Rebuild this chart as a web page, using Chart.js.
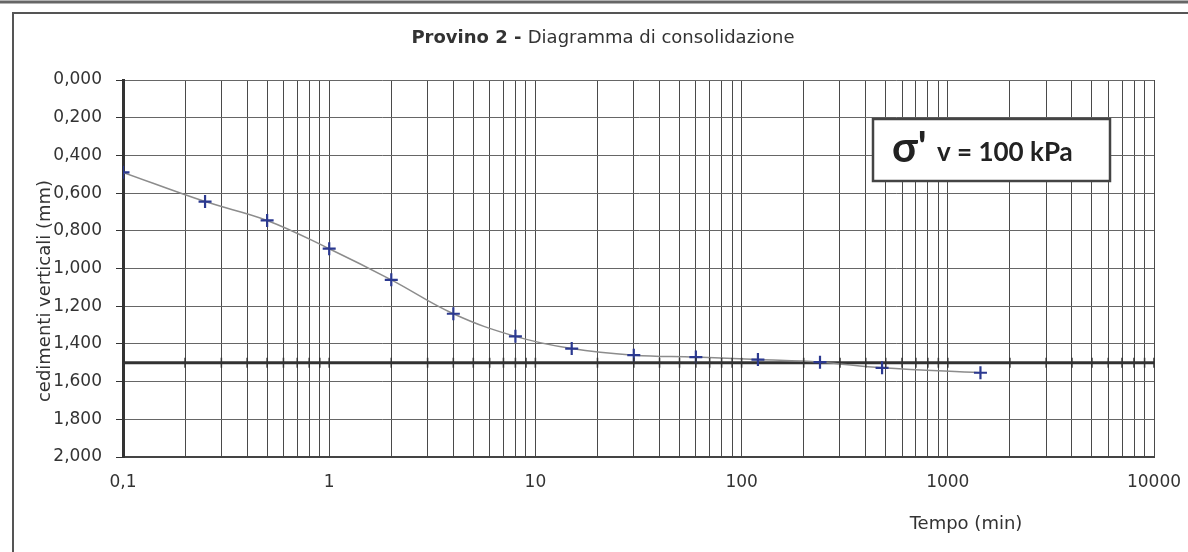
<!DOCTYPE html>
<html>
<head>
<meta charset="utf-8">
<script src="https://cdn.jsdelivr.net/npm/chart.js@4/dist/chart.umd.min.js"></script>
<style>
body { margin: 0; background: #fff; }
#box { width: 1188px; height: 552px; position: relative; }
</style>
</head>
<body>
<div id="box"><canvas id="grafico" width="1188" height="552"></canvas></div>
<script>
// letture della prova: tempo (min) e cedimento verticale (mm)
const tempi = [0.1, 0.25, 0.5, 1, 2, 4, 8, 15, 30, 60, 120, 240, 480, 1440];
const cedimenti = [0.49, 0.645, 0.745, 0.895, 1.06, 1.24, 1.36, 1.425, 1.46, 1.47, 1.483, 1.497, 1.527, 1.553];

// linea orizzontale spessa a 1,5 mm
const lineaTempi = [0.1, 10000];
const lineaValori = [1.5, 1.5];

// asse x logaritmico: griglia e etichette
const decadi = [0.1, 1, 10, 100, 1000];
const multipli = [1, 2, 3, 4, 5, 6, 7, 8, 9];
const valoriEtichetteX = [0.1, 1, 10, 100, 1000, 10000];
const etichetteX = ['0,1', '1', '10', '100', '1000', '10000'];

// testi
const titoloBold = 'Provino 2 - ';
const titoloNormale = 'Diagramma di consolidazione';
const titoloY = 'cedimenti verticali (mm)';
const titoloX = 'Tempo (min)';
const riquadroSigma = "σ'";
const riquadroTesto = 'v = 100 kPa';

const puntiProva = tempi.map((t, i) => ({ x: t, y: cedimenti[i] }));
const puntiLinea = lineaTempi.map((t, i) => ({ x: t, y: lineaValori[i] }));

//disegna cornice, titoli e riquadro
const testiPlugin = {
    id: 'testi',
    beforeDraw(chart) {
        const ctx = chart.ctx;
        ctx.save();
        ctx.fillStyle = '#fff';
        ctx.fillRect(0, 0, chart.width, chart.height);
        ctx.restore();
    },
    afterDatasetsDraw(chart) {
        // tacche sulla linea a 1,5
        const ctx = chart.ctx;
        const x = chart.scales.x, y = chart.scales.y;
        const py = y.getPixelForValue(lineaValori[0]);
        ctx.save();
        ctx.strokeStyle = '#333';
        ctx.lineWidth = 1.5;
        x.ticks.forEach(t => {
            const px = x.getPixelForValue(t.value);
            ctx.beginPath();
            ctx.moveTo(px, py - 5);
            ctx.lineTo(px, py + 5);
            ctx.stroke();
        });
        ctx.restore();
    },
    afterDraw(chart) {
        const ctx = chart.ctx;
        ctx.save();

        // cornice
        ctx.strokeStyle = '#666';
        ctx.lineWidth = 3;
        ctx.beginPath();
        ctx.moveTo(0, 2);
        ctx.lineTo(chart.width, 2);
        ctx.stroke();
        ctx.lineWidth = 2;
        ctx.strokeStyle = '#555';
        ctx.beginPath();
        ctx.moveTo(13, chart.height);
        ctx.lineTo(13, 13);
        ctx.lineTo(chart.width, 13);
        ctx.stroke();

        // titolo
        ctx.fillStyle = '#333';
        ctx.textBaseline = 'alphabetic';
        ctx.font = 'bold 18px "DejaVu Sans"';
        const w1 = ctx.measureText(titoloBold).width;
        ctx.font = '18px "DejaVu Sans"';
        const w2 = ctx.measureText(titoloNormale).width;
        let tx = 603 - (w1 + w2) / 2;
        ctx.textAlign = 'left';
        ctx.font = 'bold 18px "DejaVu Sans"';
        ctx.fillText(titoloBold, tx, 43);
        ctx.font = '18px "DejaVu Sans"';
        ctx.fillText(titoloNormale, tx + w1, 43);

        // titolo asse y
        ctx.save();
        ctx.translate(45, 291);
        ctx.rotate(-Math.PI / 2);
        ctx.textAlign = 'center';
        ctx.textBaseline = 'middle';
        ctx.font = '18px "DejaVu Sans"';
        ctx.fillText(titoloY, 0, 0);
        ctx.restore();

        // titolo asse x
        ctx.textAlign = 'center';
        ctx.textBaseline = 'middle';
        ctx.font = '18px "DejaVu Sans"';
        ctx.fillText(titoloX, 966, 524);

        // riquadro tensione
        ctx.fillStyle = '#fff';
        ctx.fillRect(873, 119, 237, 62);
        ctx.strokeStyle = '#444';
        ctx.lineWidth = 2.5;
        ctx.strokeRect(873, 119, 237, 62);
        ctx.fillStyle = '#222';
        ctx.textAlign = 'left';
        ctx.textBaseline = 'alphabetic';
        ctx.font = 'bold 42px Lato';
        ctx.fillText(riquadroSigma, 892, 162);
        ctx.font = 'bold 26px Lato';
        ctx.fillText(riquadroTesto, 937, 161);

        ctx.restore();
    }
};

new Chart(document.getElementById('grafico'), {
    type: 'scatter',
    data: {
        datasets: [{
            label: 'Provino 2',
            data: puntiProva,
            showLine: true,
            borderColor: '#8c8c8c',
            borderWidth: 1.5,
            tension: 0.4,
            pointStyle: 'cross',
            pointRadius: 6.5,
            pointBorderWidth: 2.2,
            pointBorderColor: '#2b3990',
            pointBackgroundColor: '#2b3990'
        }, {
            label: 'linea',
            data: puntiLinea,
            showLine: true,
            borderColor: '#333',
            borderWidth: 3,
            pointRadius: 0,
            clip: { left: 0, right: 0, top: 2, bottom: 2 }
        }]
    },
    options: {
        responsive: false,
        devicePixelRatio: 1,
        animation: false,
        layout: { padding: { top: 80, right: 34, left: 0, bottom: 0 } },
        plugins: {
            legend: { display: false },
            tooltip: { enabled: false }
        },
        scales: {
            x: {
                type: 'logarithmic',
                min: 0.1,
                max: 10000,
                afterBuildTicks: function (scale) {
                    const t = [];
                    decadi.forEach(d => multipli.forEach(m => t.push({ value: d * m })));
                    t.push({ value: 10000 });
                    scale.ticks = t;
                },
                afterFit: function (scale) {
                    scale.height = 95;
                    scale.paddingLeft = 0;
                    scale.paddingRight = 0;
                },
                grid: { color: '#4a4a4a', lineWidth: 1, drawTicks: false },
                border: { display: true, color: '#444', width: 2 },
                ticks: {
                    autoSkip: false,
                    maxRotation: 0,
                    padding: 15,
                    color: '#333',
                    font: { family: 'DejaVu Sans', size: 17 },
                    callback: function (value) {
                        const i = valoriEtichetteX.findIndex(v => Math.abs(v - value) < v * 1e-6);
                        return i >= 0 ? etichetteX[i] : '';
                    }
                }
            },
            y: {
                type: 'linear',
                reverse: true,
                min: 0,
                max: 2,
                afterFit: function (scale) {
                    scale.width = 123;
                    scale.paddingTop = 0;
                    scale.paddingBottom = 0;
                },
                grid: { color: '#666', lineWidth: 1, tickLength: 7, tickColor: '#333' },
                border: { display: true, color: '#333', width: 3 },
                ticks: {
                    stepSize: 0.2,
                    padding: 14,
                    color: '#333',
                    font: { family: 'DejaVu Sans', size: 17 },
                    callback: function (value) { return value.toFixed(3).replace('.', ','); }
                }
            }
        }
    },
    plugins: [testiPlugin]
});
</script>
</body>
</html>
